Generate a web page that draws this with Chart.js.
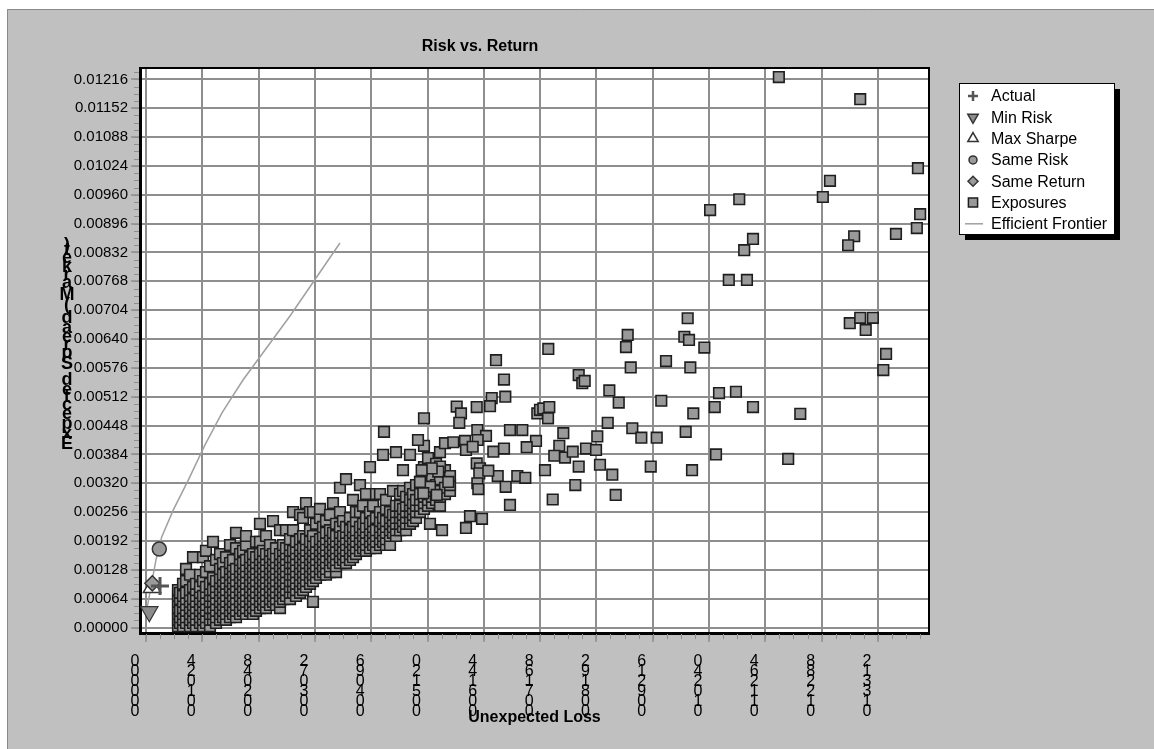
<!DOCTYPE html>
<html>
<head>
<meta charset="utf-8">
<title>Risk vs. Return</title>
<script src="https://cdn.jsdelivr.net/npm/chart.js@4.4.0/dist/chart.umd.min.js"></script>
<style>
  html, body { margin: 0; padding: 0; background: #fff; }
  canvas { display: block; }
</style>
</head>
<body>
<canvas id="riskChart" width="1154" height="749"></canvas>
<script>
// ---- data ----
const xTickValues = [0, 0.01024, 0.02048, 0.03072, 0.04096, 0.05120, 0.06144, 0.07168,
                     0.08192, 0.09216, 0.10240, 0.11264, 0.12288, 0.13312];
const yTickValues = [0, 0.00064, 0.00128, 0.00192, 0.00256, 0.00320, 0.00384, 0.00448,
                     0.00512, 0.00576, 0.00640, 0.00704, 0.00768, 0.00832, 0.00896,
                     0.00960, 0.01024, 0.01088, 0.01152, 0.01216];

const actualPoint     = [0.00255, 0.00092];
const minRiskPoint    = [0.00060, 0.00035];
const maxSharpePoint  = [0.00110, 0.00089];
const sameRiskPoint   = [0.00242, 0.00174];
const sameReturnPoint = [0.00115, 0.00098];

const frontierX = [0.00013, 0.00104, 0.00182, 0.00286, 0.00497, 0.00769, 0.01073, 0.01382, 0.01764, 0.02619, 0.03528];
const frontierY = [0.00039, 0.00099, 0.00150, 0.00201, 0.00261, 0.00327, 0.00405, 0.00476, 0.00549, 0.00691, 0.00853];

// dense part of the exposures, one x with the returns stacked above it
const exposureCols = [
  [0.00582, [0.00003,0.00017,0.00030,0.00043,0.00057,0.00070,0.00083]],
  [0.00618, [0.00010,0.00023,0.00037,0.00063,0.00077]],
  [0.00673, [0.00003,0.00017,0.00030,0.00043,0.00057,0.00070,0.00097]],
  [0.00728, [0.00010,0.00023,0.00037,0.00050,0.00063,0.00077,0.00103,0.00130]],
  [0.00800, [0.00003,0.00017,0.00030,0.00043,0.00057,0.00070,0.00083,0.00117]],
  [0.00855, [0.00010,0.00023,0.00037,0.00050,0.00063,0.00090,0.00156]],
  [0.00909, [0.00003,0.00017,0.00030,0.00043,0.00057,0.00070,0.00083,0.00097]],
  [0.00982, [0.00010,0.00023,0.00037,0.00050,0.00063,0.00077,0.00090,0.00117]],
  [0.01037, [0.00003,0.00017,0.00030,0.00043,0.00057,0.00070,0.00103,0.00156]],
  [0.01091, [0.00010,0.00023,0.00037,0.00050,0.00063,0.00077,0.00090,0.00123,0.00170]],
  [0.01164, [0.00003,0.00017,0.00030,0.00043,0.00057,0.00070,0.00083,0.00097,0.00136]],
  [0.01219, [0.00017,0.00030,0.00043,0.00057,0.00070,0.00083,0.00110,0.00190]],
  [0.01273, [0.00010,0.00023,0.00037,0.00050,0.00063,0.00077,0.00090,0.00103,0.00150]],
  [0.01346, [0.00017,0.00030,0.00043,0.00057,0.00070,0.00083,0.00097,0.00110,0.00130,0.00163]],
  [0.01400, [0.00023,0.00037,0.00050,0.00063,0.00077,0.00090,0.00103,0.00117,0.00143]],
  [0.01455, [0.00017,0.00030,0.00043,0.00057,0.00070,0.00083,0.00097,0.00110,0.00123,0.00156]],
  [0.01528, [0.00023,0.00037,0.00050,0.00063,0.00077,0.00090,0.00103,0.00117,0.00130,0.00143,0.00183]],
  [0.01582, [0.00030,0.00043,0.00057,0.00070,0.00083,0.00097,0.00110,0.00123,0.00136,0.00150]],
  [0.01637, [0.00023,0.00037,0.00050,0.00063,0.00077,0.00090,0.00103,0.00117,0.00130,0.00176,0.00210]],
  [0.01710, [0.00030,0.00043,0.00057,0.00070,0.00083,0.00097,0.00110,0.00123,0.00136,0.00150,0.00163]],
  [0.01764, [0.00037,0.00050,0.00063,0.00077,0.00090,0.00103,0.00117,0.00130,0.00143,0.00170]],
  [0.01819, [0.00030,0.00043,0.00057,0.00070,0.00083,0.00097,0.00110,0.00123,0.00136,0.00150,0.00183,0.00203]],
  [0.01892, [0.00037,0.00050,0.00063,0.00077,0.00090,0.00103,0.00117,0.00130,0.00143,0.00156]],
  [0.01946, [0.00030,0.00043,0.00057,0.00070,0.00083,0.00097,0.00110,0.00123,0.00136,0.00150,0.00163]],
  [0.02001, [0.00037,0.00050,0.00063,0.00077,0.00090,0.00103,0.00117,0.00130,0.00143,0.00156,0.00190]],
  [0.02073, [0.00043,0.00057,0.00070,0.00083,0.00097,0.00110,0.00123,0.00136,0.00150,0.00163,0.00190,0.00230]],
  [0.02128, [0.00050,0.00063,0.00077,0.00090,0.00103,0.00117,0.00130,0.00143,0.00156,0.00170]],
  [0.02183, [0.00043,0.00057,0.00070,0.00083,0.00097,0.00110,0.00123,0.00136,0.00150,0.00163,0.00203]],
  [0.02255, [0.00050,0.00063,0.00077,0.00090,0.00103,0.00117,0.00130,0.00143,0.00156,0.00170,0.00183]],
  [0.02310, [0.00057,0.00070,0.00083,0.00097,0.00110,0.00123,0.00136,0.00150,0.00163,0.00236]],
  [0.02364, [0.00050,0.00063,0.00077,0.00090,0.00103,0.00117,0.00130,0.00143,0.00156,0.00176]],
  [0.02437, [0.00043,0.00057,0.00070,0.00083,0.00097,0.00110,0.00123,0.00136,0.00150,0.00163,0.00216]],
  [0.02492, [0.00063,0.00077,0.00090,0.00103,0.00117,0.00130,0.00143,0.00156,0.00170,0.00183]],
  [0.02546, [0.00070,0.00083,0.00097,0.00110,0.00123,0.00136,0.00150,0.00163,0.00176,0.00216]],
  [0.02619, [0.00063,0.00077,0.00090,0.00103,0.00117,0.00130,0.00143,0.00156,0.00170,0.00183,0.00196]],
  [0.02674, [0.00077,0.00090,0.00103,0.00117,0.00130,0.00143,0.00156,0.00170,0.00216,0.00256]],
  [0.02728, [0.00070,0.00083,0.00097,0.00110,0.00123,0.00136,0.00150,0.00163,0.00176,0.00190]],
  [0.02801, [0.00077,0.00090,0.00103,0.00117,0.00130,0.00143,0.00156,0.00170,0.00183,0.00196,0.00250]],
  [0.02856, [0.00083,0.00097,0.00110,0.00123,0.00136,0.00150,0.00163,0.00176,0.00203,0.00243]],
  [0.02910, [0.00090,0.00103,0.00117,0.00130,0.00143,0.00156,0.00170,0.00183,0.00196,0.00276]],
  [0.02983, [0.00097,0.00110,0.00123,0.00136,0.00150,0.00163,0.00176,0.00190,0.00216,0.00256]],
  [0.03037, [0.00057,0.00103,0.00117,0.00130,0.00143,0.00156,0.00170,0.00183,0.00203,0.00256]],
  [0.03092, [0.00110,0.00123,0.00136,0.00150,0.00163,0.00176,0.00190,0.00230]],
  [0.03165, [0.00117,0.00130,0.00143,0.00156,0.00170,0.00183,0.00196,0.00243,0.00263]],
  [0.03219, [0.00123,0.00136,0.00150,0.00163,0.00176,0.00190,0.00203,0.00223]],
  [0.03274, [0.00117,0.00130,0.00143,0.00156,0.00170,0.00183,0.00196,0.00210,0.00236]],
  [0.03347, [0.00123,0.00136,0.00150,0.00163,0.00176,0.00190,0.00203,0.00216,0.00250]],
  [0.03401, [0.00143,0.00156,0.00170,0.00183,0.00196,0.00210,0.00276]],
  [0.03456, [0.00123,0.00136,0.00150,0.00163,0.00176,0.00190,0.00203,0.00230]],
  [0.03528, [0.00143,0.00156,0.00170,0.00183,0.00196,0.00210,0.00223,0.00256,0.00310]],
  [0.03583, [0.00150,0.00163,0.00176,0.00190,0.00203,0.00236]],
  [0.03638, [0.00143,0.00156,0.00170,0.00183,0.00196,0.00210,0.00223,0.00329]],
  [0.03710, [0.00150,0.00163,0.00176,0.00190,0.00203,0.00216,0.00243]],
  [0.03765, [0.00156,0.00170,0.00183,0.00196,0.00210,0.00223,0.00283]],
  [0.03819, [0.00163,0.00176,0.00190,0.00203,0.00216,0.00236,0.00256]],
  [0.03892, [0.00170,0.00183,0.00196,0.00210,0.00223,0.00256,0.00316]],
  [0.03947, [0.00176,0.00190,0.00203,0.00216,0.00230,0.00270]],
  [0.04001, [0.00170,0.00183,0.00196,0.00210,0.00223,0.00243,0.00296]],
  [0.04074, [0.00176,0.00190,0.00203,0.00216,0.00230,0.00256]],
  [0.04129, [0.00183,0.00196,0.00210,0.00223,0.00236,0.00270]],
  [0.04183, [0.00176,0.00190,0.00203,0.00216,0.00243,0.00296]],
  [0.04256, [0.00183,0.00196,0.00210,0.00223,0.00236,0.00256,0.00296]],
  [0.04311, [0.00190,0.00203,0.00216,0.00230,0.00243]],
  [0.04365, [0.00183,0.00196,0.00210,0.00223,0.00236,0.00263,0.00283]],
  [0.04438, [0.00183,0.00203,0.00216,0.00230,0.00243,0.00256]],
  [0.04492, [0.00210,0.00223,0.00236,0.00250,0.00303]],
  [0.04547, [0.00203,0.00216,0.00230,0.00243,0.00256,0.00270]],
  [0.04620, [0.00216,0.00230,0.00243,0.00256,0.00270,0.00296]],
  [0.04674, [0.00223,0.00236,0.00250,0.00263,0.00303]],
  [0.04729, [0.00216,0.00230,0.00243,0.00256,0.00270,0.00290]],
  [0.04802, [0.00230,0.00243,0.00256,0.00270,0.00283,0.00310]],
  [0.04856, [0.00236,0.00250,0.00263,0.00276,0.00296]],
  [0.04911, [0.00243,0.00256,0.00270,0.00283,0.00316]],
  [0.04984, [0.00256,0.00270,0.00283,0.00296,0.00323]],
  [0.05056, [0.00263,0.00276,0.00290,0.00310,0.00356]],
  [0.05129, [0.00270,0.00283,0.00296,0.00323,0.00376]],
  [0.05202, [0.00276,0.00290,0.00303,0.00336]],
  [0.05275, [0.00283,0.00296,0.00316,0.00363]],
  [0.05347, [0.00270,0.00290,0.00303,0.00329,0.00389]],
  [0.05438, [0.00296,0.00310,0.00349,0.00409]],
  [0.05529, [0.00303,0.00316,0.00336]]
];

// the scattered exposures
const exposureScattered = [
  [0.1151,0.01221],[0.1299,0.01172],[0.1404,0.01019],[0.1244,0.00991],[0.1079,0.00950],
  [0.1231,0.00955],[0.1026,0.00926],[0.1408,0.00917],[0.1402,0.00886],[0.1364,0.00873],
  [0.1288,0.00868],[0.1277,0.00848],[0.1104,0.00862],[0.1088,0.00837],
  [0.1060,0.00771],[0.1093,0.00771],[0.1280,0.00675],[0.1299,0.00687],[0.1322,0.00687],
  [0.1309,0.00660],[0.1346,0.00607],[0.1341,0.00571],[0.1190,0.00474],[0.1168,0.00374],
  [0.1073,0.00523],[0.1104,0.00489],
  [0.09852,0.00686],[0.08761,0.00649],[0.09791,0.00645],[0.09876,0.00638],[0.08730,0.00622],
  [0.10155,0.00621],[0.07317,0.00618],[0.06366,0.00593],[0.09458,0.00591],[0.08816,0.00577],
  [0.09900,0.00577],[0.07870,0.00560],[0.07935,0.00542],[0.07979,0.00547],[0.06511,0.00550],
  [0.08427,0.00526],[0.06535,0.00512],[0.06288,0.00509],[0.06257,0.00491],[0.08598,0.00499],
  [0.09372,0.00503],[0.10422,0.00520],[0.05651,0.00490],[0.05729,0.00475],[0.05698,0.00454],
  [0.06015,0.00489],[0.07117,0.00475],[0.07166,0.00483],[0.07226,0.00486],[0.07335,0.00489],
  [0.07312,0.00464],[0.10344,0.00489],[0.09954,0.00475],[0.05056,0.00464],[0.08398,0.00454],
  [0.08845,0.00442],[0.09009,0.00421],[0.09289,0.00421],[0.09816,0.00434],[0.06026,0.00438],
  [0.06184,0.00425],[0.06033,0.00416],[0.06620,0.00438],[0.06844,0.00438],[0.07590,0.00431],
  [0.08208,0.00424],[0.05589,0.00411],[0.05802,0.00414],[0.05820,0.00394],[0.05942,0.00401],
  [0.07093,0.00414],[0.05056,0.00403],[0.06317,0.00390],[0.06511,0.00397],[0.06924,0.00400],
  [0.07517,0.00403],[0.07426,0.00381],[0.07621,0.00377],[0.07761,0.00390],[0.08003,0.00397],
  [0.08185,0.00394],[0.10367,0.00384],[0.08257,0.00361],[0.07870,0.00357],[0.07257,0.00349],
  [0.08481,0.00339],[0.09180,0.00357],[0.09931,0.00349],[0.06753,0.00336],[0.06899,0.00332],
  [0.06397,0.00336],[0.06542,0.00312],[0.07808,0.00316],[0.08543,0.00294],[0.07397,0.00284],
  [0.06015,0.00364],[0.06075,0.00353],[0.06062,0.00342],[0.06226,0.00348],[0.06026,0.00320],
  [0.06044,0.00307],[0.05347,0.00357],[0.05316,0.00346],[0.05196,0.00353],[0.05014,0.00349],
  [0.05498,0.00323],[0.05165,0.00312],[0.04984,0.00323],[0.05044,0.00298],[0.05287,0.00294],
  [0.04311,0.00383],[0.04074,0.00356],[0.04547,0.00389],[0.04802,0.00383],[0.04947,0.00416],
  [0.04674,0.00349],[0.05165,0.00230],[0.05384,0.00216],[0.05893,0.00247],[0.06111,0.00241],
  [0.05820,0.00221],[0.06620,0.00272],[0.04329,0.00434]
];

const FONT = '"Liberation Sans", Arial, Helvetica, sans-serif';

function toPoints(xs, ys) {
  return xs.map((x, i) => ({ x: x, y: ys[i] }));
}

const exposurePoints = [];
exposureCols.forEach(col => {
  col[1].forEach(y => exposurePoints.push({ x: col[0], y: y }));
});
exposureScattered.forEach(p => exposurePoints.push({ x: p[0], y: p[1] }));

// tick labels are printed as a vertical column of upright digits, read bottom to top
function stackedLabel(v) {
  return v.toFixed(5).replace('.', '').split('').reverse();
}

const chrome = {
  id: 'chrome',
  beforeDraw(chart) {
    const ctx = chart.ctx, a = chart.chartArea;
    ctx.save();
    ctx.fillStyle = '#fff';
    ctx.fillRect(0, 0, chart.width, chart.height);
    ctx.fillStyle = '#c0c0c0';
    ctx.fillRect(7, 9, chart.width - 7, chart.height - 9);
    ctx.strokeStyle = '#8a8a8a';
    ctx.lineWidth = 1;
    ctx.beginPath();
    ctx.moveTo(7.5, chart.height);
    ctx.lineTo(7.5, 9.5);
    ctx.lineTo(chart.width, 9.5);
    ctx.stroke();
    ctx.fillStyle = '#fff';
    ctx.fillRect(a.left, a.top, a.right - a.left, a.bottom - a.top);
    ctx.restore();
  },
  afterDraw(chart) {
    const ctx = chart.ctx, a = chart.chartArea;
    const xs = chart.scales.x, ys = chart.scales.y;
    ctx.save();

    // thin frame on top and right
    ctx.strokeStyle = '#000';
    ctx.lineWidth = 2;
    ctx.beginPath();
    ctx.moveTo(a.left, a.top);
    ctx.lineTo(a.right, a.top);
    ctx.lineTo(a.right, a.bottom);
    ctx.stroke();

    // minor ticks
    ctx.strokeStyle = '#8e8e8e';
    ctx.lineWidth = 1;
    ctx.beginPath();
    for (let v = 0; v <= xs.max; v += 0.00256) {
      const px = Math.round(xs.getPixelForValue(v)) + 0.5;
      ctx.moveTo(px, a.bottom + 1);
      ctx.lineTo(px, a.bottom + 6);
    }
    for (let v = 0; v <= ys.max; v += 0.00016) {
      const py = Math.round(ys.getPixelForValue(v)) + 0.5;
      ctx.moveTo(a.left - 6, py);
      ctx.lineTo(a.left - 1, py);
    }
    ctx.stroke();

    // titles
    ctx.fillStyle = '#000';
    ctx.font = 'bold 16px ' + FONT;
    ctx.textAlign = 'center';
    ctx.textBaseline = 'middle';
    ctx.fillText('Risk vs. Return', 480, 47);
    ctx.fillText('Unexpected Loss', (a.left + a.right) / 2, 718);

    // y title: upright glyphs stacked from the bottom up
    ctx.font = 'bold 18px ' + FONT;
    const yTitle = 'Expected Spread (Market)';
    const widths = yTitle.split('').map(ch => ctx.measureText(ch).width);
    const total = widths.reduce((s, w) => s + w, 0);
    const k = 208 / total;
    let cum = 0;
    yTitle.split('').forEach((ch, i) => {
      const cy = 450 - (cum + widths[i] / 2) * k;
      if (ch !== ' ') ctx.fillText(ch, 67, cy);
      cum += widths[i];
    });

    // legend
    const lx = 959, ly = 83, lw = 155, lh = 151;
    ctx.fillStyle = '#000';
    ctx.fillRect(lx + 6, ly + 6, lw, lh);
    ctx.fillStyle = '#fff';
    ctx.fillRect(lx, ly, lw, lh);
    ctx.strokeStyle = '#000';
    ctx.lineWidth = 1;
    ctx.strokeRect(lx + 0.5, ly + 0.5, lw, lh);

    ctx.font = '16px ' + FONT;
    ctx.textAlign = 'left';
    chart.data.datasets.forEach((ds, i) => {
      const cy = ly + 13 + i * 21.3;
      const cx = lx + 14;
      ctx.save();
      if (ds.showLine) {
        ctx.strokeStyle = ds.borderColor;
        ctx.lineWidth = 1.5;
        ctx.beginPath();
        ctx.moveTo(cx - 8, cy);
        ctx.lineTo(cx + 10, cy);
        ctx.stroke();
      } else {
        ctx.fillStyle = ds.backgroundColor || ds.borderColor;
        ctx.strokeStyle = ds.borderColor;
        ctx.lineWidth = ds.legendBorder;
        Chart.helpers.drawPoint(ctx, {
          pointStyle: ds.pointStyle,
          rotation: ds.rotation || 0,
          radius: ds.legendRadius,
          borderWidth: ds.legendBorder
        }, cx, cy);
      }
      ctx.restore();
      ctx.fillStyle = '#000';
      ctx.textBaseline = 'middle';
      ctx.fillText(ds.label, lx + 32, cy + 1);
    });

    ctx.restore();
  }
};

const xMin = -0.00109, xMax = 0.14241;
const yMin = -0.000122, yMax = 0.012412;

new Chart(document.getElementById('riskChart'), {
  type: 'scatter',
  data: {
    datasets: [
      { label: 'Actual', data: [{ x: actualPoint[0], y: actualPoint[1] }],
        pointStyle: 'cross', pointRadius: 9, borderColor: '#555', borderWidth: 3,
        legendRadius: 5, legendBorder: 2.5, order: 0 },
      { label: 'Min Risk', data: [{ x: minRiskPoint[0], y: minRiskPoint[1] }],
        pointStyle: 'triangle', rotation: 180, pointRadius: 10, backgroundColor: '#8c8c8c',
        borderColor: '#333', borderWidth: 1.2, legendRadius: 6, legendBorder: 1.5, order: 0 },
      { label: 'Max Sharpe', data: [{ x: maxSharpePoint[0], y: maxSharpePoint[1] }],
        pointStyle: 'triangle', pointRadius: 10, backgroundColor: '#fff',
        borderColor: '#333', borderWidth: 1.5, legendRadius: 6, legendBorder: 1.5, order: 0.5 },
      { label: 'Same Risk', data: [{ x: sameRiskPoint[0], y: sameRiskPoint[1] }],
        pointStyle: 'circle', pointRadius: 7, backgroundColor: '#9a9a9a',
        borderColor: '#333', borderWidth: 1.5, legendRadius: 4, legendBorder: 1.5, order: 0 },
      { label: 'Same Return', data: [{ x: sameReturnPoint[0], y: sameReturnPoint[1] }],
        pointStyle: 'rectRot', pointRadius: 7.5, backgroundColor: '#9a9a9a',
        borderColor: '#333', borderWidth: 1.5, legendRadius: 5, legendBorder: 1.5, order: 0 },
      { label: 'Exposures', data: exposurePoints,
        pointStyle: 'rect', pointRadius: 7.5, backgroundColor: '#999999',
        borderColor: '#1e1e1e', borderWidth: 1.6, legendRadius: 6.5, legendBorder: 1.5, order: 1 },
      { label: 'Efficient Frontier', data: toPoints(frontierX, frontierY),
        showLine: true, pointRadius: 0, borderColor: '#a0a0a0', borderWidth: 1.5,
        fill: false, order: 2 }
    ]
  },
  options: {
    responsive: false,
    animation: false,
    events: [],
    layout: { padding: { top: 68, right: 225, bottom: 0, left: 0 } },
    plugins: {
      legend: { display: false },
      title: { display: false },
      tooltip: { enabled: false }
    },
    scales: {
      x: {
        type: 'linear',
        min: xMin,
        max: xMax,
        afterBuildTicks: s => { s.ticks = xTickValues.map(v => ({ value: v })); },
        afterFit: s => { s.height = 116; },
        ticks: {
          autoSkip: false,
          maxRotation: 0,
          minRotation: 0,
          padding: 15,
          labelOffset: -11,
          color: '#000',
          font: { family: FONT, size: 16, lineHeight: '10px' },
          callback: v => stackedLabel(v)
        },
        grid: { color: '#8e8e8e', lineWidth: 2, tickLength: 9, tickColor: '#8e8e8e', tickWidth: 1.5 },
        border: { color: '#000', width: 3 }
      },
      y: {
        type: 'linear',
        min: yMin,
        max: yMax,
        afterBuildTicks: s => { s.ticks = yTickValues.map(v => ({ value: v })); },
        afterFit: s => { s.width = 140; },
        ticks: {
          autoSkip: false,
          padding: 3,
          color: '#000',
          font: { family: FONT, size: 15 },
          callback: v => v.toFixed(5)
        },
        grid: { color: '#8e8e8e', lineWidth: 2, tickLength: 9, tickColor: '#8e8e8e', tickWidth: 1.5 },
        border: { color: '#000', width: 3 }
      }
    }
  },
  plugins: [chrome]
});
</script>
</body>
</html>
